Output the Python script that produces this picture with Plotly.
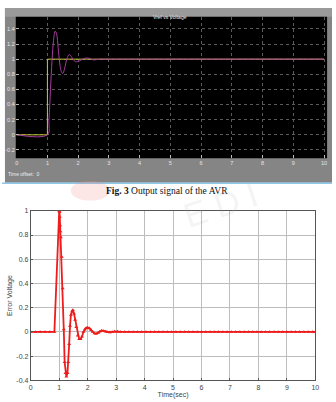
import plotly.graph_objects as go

# ---------------- data: scope (top) ----------------
scope_step_t = [0.0, 1.0, 1.0, 10.0]
scope_step_v = [0.0, 0.0, 1.0, 1.0]
scope_t = [0.0, 1.0, 1.05, 1.1, 1.15, 1.2, 1.25, 1.3, 1.35, 1.4, 1.45, 1.5, 1.55,
           1.6, 1.65, 1.7, 1.75, 1.8, 1.85, 1.9, 1.95, 2.0, 2.1, 2.2, 2.3, 2.4,
           2.5, 2.7, 3.0, 10.0]
scope_v = [0.0, 0.0, 0.2, 0.6, 0.98, 1.25, 1.37, 1.33, 1.15, 0.95, 0.84, 0.81, 0.86,
           0.95, 1.02, 1.06, 1.05, 1.02, 0.99, 0.97, 0.965, 0.97, 0.99, 1.01, 1.015,
           1.005, 0.99, 1.0, 1.0, 1.0]
scope_xticks = [0, 1, 2, 3, 4, 5, 6, 7, 8, 9, 10]
scope_yticks = [-0.2, 0, 0.2, 0.4, 0.6, 0.8, 1, 1.2, 1.4]

# ---------------- data: error voltage (bottom) ----------------
err_t = [0.0, 0.17, 0.33, 0.5, 0.67, 0.83, 1.0, 1.01, 1.02, 1.03, 1.04, 1.06, 1.09,
         1.12, 1.16, 1.19, 1.22, 1.25, 1.29, 1.32, 1.35, 1.38, 1.41, 1.45, 1.48,
         1.52, 1.56, 1.6, 1.65, 1.7, 1.75, 1.8, 1.85, 1.9, 1.95, 2.0, 2.06, 2.12,
         2.18, 2.24, 2.3, 2.37, 2.43, 2.49, 2.56, 2.63, 2.7, 2.78, 2.86, 2.95, 3.05,
         3.15, 3.3, 3.45, 3.6, 3.75, 3.9, 4.05, 4.2, 4.35, 4.5, 4.65, 4.8, 4.95,
         5.1, 5.25, 5.4, 5.55, 5.7, 5.85, 6.0, 6.15, 6.3, 6.45, 6.6, 6.75, 6.9,
         7.05, 7.2, 7.35, 7.5, 7.65, 7.8, 7.95, 8.1, 8.25, 8.4, 8.55, 8.7, 8.85,
         9.0, 9.15, 9.3, 9.45, 9.6, 9.75, 9.9, 10.0]
err_v = [0.0, 0.0, 0.0, 0.0, 0.0, 0.0, 1.0, 0.99, 0.95, 0.88, 0.83, 0.78, 0.62,
         0.36, 0.02, -0.25, -0.34, -0.37, -0.34, -0.25, -0.1, 0.05, 0.14, 0.17, 0.18,
         0.15, 0.1, 0.04, -0.03, -0.06, -0.06, -0.04, 0.0, 0.02, 0.033, 0.035, 0.03, 0.015,
         0.0, -0.013, -0.015, -0.008, 0.004, 0.01, 0.008, 0.003, -0.002, -0.003, 0.0, 0.004,
         0.003, 0.0, 0.0, 0.0, 0.0, 0.0, 0.0, 0.0, 0.0, 0.0, 0.0, 0.0, 0.0, 0.0,
         0.0, 0.0, 0.0, 0.0, 0.0, 0.0, 0.0, 0.0, 0.0, 0.0, 0.0, 0.0, 0.0,
         0.0, 0.0, 0.0, 0.0, 0.0, 0.0, 0.0, 0.0, 0.0, 0.0, 0.0, 0.0, 0.0,
         0.0, 0.0, 0.0, 0.0, 0.0, 0.0, 0.0, 0.0]
err_xticks = [0, 1, 2, 3, 4, 5, 6, 7, 8, 9, 10]
err_yticks = [-0.4, -0.2, 0, 0.2, 0.4, 0.6, 0.8, 1]

W, H = 336, 402
def px(x):
    return x / W
def py(y):
    return 1 - y / H

fig = go.Figure()

fig.add_trace(go.Scatter(x=scope_step_t, y=scope_step_v, mode="lines",
                         line=dict(color="#c8c23a", width=1), xaxis="x", yaxis="y",
                         showlegend=False, hoverinfo="skip"))
fig.add_trace(go.Scatter(x=scope_t, y=scope_v, mode="lines", line_shape="spline",
                         line=dict(color="#a63c9c", width=1), xaxis="x", yaxis="y",
                         showlegend=False, hoverinfo="skip"))
fig.add_trace(go.Scatter(x=err_t, y=err_v, mode="lines+markers",
                         line=dict(color="#ee1c1c", width=1.8),
                         marker=dict(color="#ee1c1c", size=3.5, symbol="triangle-up"),
                         xaxis="x2", yaxis="y2", showlegend=False))

shapes = [
    # scope gray frame
    dict(type="rect", xref="paper", yref="paper", x0=px(3), x1=px(336), y0=py(182), y1=py(4),
         fillcolor="#858585", line=dict(width=0), layer="below"),
    dict(type="rect", xref="paper", yref="paper", x0=px(3), x1=px(336), y0=py(13), y1=py(4),
         fillcolor="#9a9a9a", line=dict(width=0), layer="below"),
    dict(type="line", xref="paper", yref="paper", x0=px(0), x1=px(336), y0=py(182.5), y1=py(182.5),
         line=dict(color="#8ec8ea", width=1.5), layer="below"),
    # black scope plot area
    dict(type="rect", xref="x domain", yref="y domain", x0=0, x1=1, y0=0, y1=1,
         fillcolor="#000000", line=dict(width=0), layer="below"),
    # watermark blob
    dict(type="circle", xref="paper", yref="paper", x0=px(70), x1=px(110), y0=py(200), y1=py(180),
         fillcolor="rgba(240,140,140,0.22)", line=dict(width=0), layer="below"),
]

annotations = [
    dict(text="Vref vs Voltage", x=px(171), y=py(8.5), xref="paper", yref="paper",
         showarrow=False, font=dict(size=5, color="#e8e8e8", family="Liberation Sans")),
    dict(text="Time offset:  0", x=px(4), y=py(173), xref="paper", yref="paper", xanchor="left",
         showarrow=False, font=dict(size=5, color="#eeeeee", family="Liberation Sans")),
    dict(text="<b>Fig. 3</b> Output signal of the AVR", x=px(168), y=py(190), xref="paper",
         yref="paper", showarrow=False,
         font=dict(size=9.5, color="#111111", family="Liberation Serif")),
    dict(text="E D I", x=px(268), y=py(205), xref="paper", yref="paper", showarrow=False,
         textangle=-18, font=dict(size=34, color="rgba(170,170,170,0.14)", family="Liberation Sans")),
]

fig.update_layout(
    width=W, height=H, margin=dict(l=0, r=0, t=0, b=0),
    paper_bgcolor="white", plot_bgcolor="rgba(0,0,0,0)",
    shapes=shapes, annotations=annotations,
    xaxis=dict(domain=[px(14), px(331)], range=[-0.03, 10.1], tickvals=scope_xticks,
               showgrid=True, gridcolor="#5a5a5a", griddash="dot", gridwidth=1,
               zeroline=False, showline=False, ticks="inside", ticklen=3, tickcolor="#bbbbbb",
               tickfont=dict(size=5.5, color="#e6e6e6", family="Liberation Sans"),
               ticklabelstandoff=0,
               anchor="y", fixedrange=True),
    yaxis=dict(domain=[py(157), py(13)], range=[-0.31, 1.56], tickvals=scope_yticks,
               ticktext=["-0.2", "0", "0.2", "0.4", "0.6", "0.8", "1", "1.2", "1.4"],
               showgrid=True, gridcolor="#5a5a5a", griddash="dot", gridwidth=1,
               zeroline=False, showline=False, ticks="inside", ticklen=3, tickcolor="#bbbbbb",
               tickfont=dict(size=5.5, color="#e6e6e6", family="Liberation Sans"),
               ticklabelstandoff=0,
               anchor="x", fixedrange=True),
    xaxis2=dict(domain=[px(29.3), px(319)], range=[0, 10], tickvals=err_xticks,
                showgrid=True, gridcolor="#bdbdbd", gridwidth=1, zeroline=False,
                showline=True, linecolor="#555555", linewidth=1, mirror=True,
                ticks="inside", ticklen=2, tickcolor="#555555",
                tickfont=dict(size=7, color="#444444", family="Liberation Sans"),
                title=dict(text="Time(sec)", font=dict(size=7, color="#444444",
                           family="Liberation Sans"), standoff=1),
                anchor="y2", fixedrange=True),
    yaxis2=dict(domain=[py(383), py(210.5)], range=[-0.4, 1], tickvals=err_yticks,
                ticktext=["-0.4", "-0.2", "0", "0.2", "0.4", "0.6", "0.8", "1"],
                showgrid=True, gridcolor="#bdbdbd", gridwidth=1, zeroline=False,
                showline=True, linecolor="#555555", linewidth=1, mirror=True,
                ticks="inside", ticklen=2, tickcolor="#555555",
                tickfont=dict(size=7, color="#444444", family="Liberation Sans"),
                title=dict(text="Error Voltage", font=dict(size=7, color="#444444",
                           family="Liberation Sans"), standoff=2),
                anchor="x2", fixedrange=True),
)

fig.write_html("out.html")
